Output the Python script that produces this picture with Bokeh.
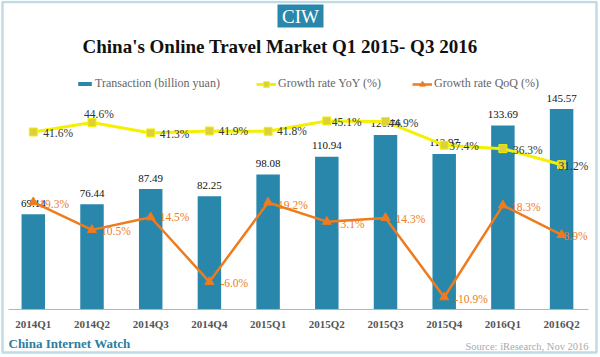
from bokeh.plotting import figure
from bokeh.models import (Range1d, Label, Legend, LegendItem,
                          BoxAnnotation, ColumnDataSource)
from bokeh.core.properties import value
from bokeh.embed import file_html
from bokeh.resources import INLINE

quarters = ["2014Q1", "2014Q2", "2014Q3", "2014Q4", "2015Q1",
            "2015Q2", "2015Q3", "2015Q4", "2016Q1", "2016Q2"]
transaction = [69.14, 76.44, 87.49, 82.25, 98.08, 110.94, 126.76, 112.97, 133.69, 145.57]
yoy = [41.6, 44.6, 41.3, 41.9, 41.8, 45.1, 44.9, 37.4, 36.3, 31.2]
qoq = [19.3, 10.5, 14.5, -6.0, 19.2, 13.1, 14.3, -10.9, 18.3, 8.9]

# label placement (pixel nudges, as in the reference's collision-avoided labels)
yoy_label_dx = [10, -8, 9, 9, 9, 5, 3, 5, 10, -3]
yoy_label_dy = [1, -9, 1, 0, 0, 1, 1, 1, 1, 1]
qoq_label_dx = [6, 9, 9, 11, 10, 8, 10, 10, 8, 2]
qoq_label_dy = [2, 1, 0, 1, 3, 2, 1, 2, 2, 1]

TEAL = "#2987ab"
YELLOW = "#f4f000"
YMARK = "#dcd13a"
ORANGE = "#ee7b1e"
SERIF = "Liberation Serif"
W, H = 600, 357

def fy(sy):
    # canvas pixel row (from top) -> frame screen units (from bottom)
    return H - sy

idx = list(range(len(quarters)))
src = ColumnDataSource(dict(
    x=idx, q=quarters, t=transaction, yoy=yoy, qoq=qoq,
    t_lbl=[f"{v:.2f}" for v in transaction],
    yoy_lbl=[f"{v:.1f}%" for v in yoy],
    qoq_lbl=[f"{v:.1f}%" for v in qoq],
    yoy_dx=yoy_label_dx, yoy_dy=yoy_label_dy,
    qoq_dx=qoq_label_dx, qoq_dy=qoq_label_dy,
    zero=[0] * len(quarters),
))

p = figure(width=W, height=H, title=None,
           x_range=Range1d(-0.5588, 9.6627),
           y_range=Range1d(-34.86, 224.4),
           x_axis_location=None, y_axis_location=None,
           output_backend="svg", toolbar_location=None,
           min_border=0, min_border_left=0, min_border_right=0,
           min_border_top=0, min_border_bottom=0)
p.extra_y_ranges = {"pct": Range1d(-30.05, 83.36)}
p.outline_line_color = None
p.grid.visible = False
p.background_fill_color = "white"
p.border_fill_color = "white"

# x axis baseline
p.add_layout(BoxAnnotation(left=8, right=588, bottom=fy(309.5), top=fy(308.5),
                           left_units="screen", right_units="screen",
                           top_units="screen", bottom_units="screen",
                           fill_color="#b5b5b5", fill_alpha=1, line_color=None))

bars = p.vbar(x="x", top="t", width=0.4, source=src,
              fill_color=TEAL, line_color=None)
p.text(x="x", y="t", text="t_lbl", source=src, text_align="center",
       text_baseline="middle", y_offset=-11, text_font=value(SERIF),
       text_font_size="11px", text_color="#111111")

# category labels along the bottom
p.text(x="x", y="zero", text="q", source=src, text_align="center",
       text_baseline="middle", y_offset=14.5, text_font=value(SERIF),
       text_font_size="11px", text_font_style="bold", text_color="#555555")

l_yoy = p.line(x="x", y="yoy", source=src, y_range_name="pct",
               line_color=YELLOW, line_width=3)
m_yoy = p.scatter(x="x", y="yoy", source=src, y_range_name="pct",
                  marker="square", size=8, fill_color=YMARK, line_color=YELLOW)
l_qoq = p.line(x="x", y="qoq", source=src, y_range_name="pct",
               line_color=ORANGE, line_width=2.5)
m_qoq = p.scatter(x="x", y="qoq", source=src, y_range_name="pct",
                  marker="triangle", size=9, fill_color=ORANGE, line_color=ORANGE)

p.text(x="x", y="yoy", text="yoy_lbl", source=src, y_range_name="pct",
       x_offset="yoy_dx", y_offset="yoy_dy", text_align="left",
       text_baseline="middle", text_font=value(SERIF),
       text_font_size="11.5px", text_color="#333333")
p.text(x="x", y="qoq", text="qoq_lbl", source=src, y_range_name="pct",
       x_offset="qoq_dx", y_offset="qoq_dy", text_align="left",
       text_baseline="middle", text_font=value(SERIF),
       text_font_size="11.5px", text_color=ORANGE)

def make_legend(items, x, gw, gh, top_sy):
    leg = Legend(items=items, location=(x, fy(top_sy + 14)),
                 orientation="horizontal",
                 glyph_width=gw, glyph_height=gh, label_height=14,
                 label_standoff=2, padding=0, margin=0, spacing=0,
                 border_line_color=None, background_fill_alpha=0,
                 label_text_font=SERIF, label_text_font_size="12px",
                 label_text_color="#666666")
    p.add_layout(leg, "center")

make_legend([LegendItem(label="Transaction (billion yuan)", renderers=[bars])], 76, 17, 5, 77)
make_legend([LegendItem(label="Growth rate YoY (%)", renderers=[l_yoy, m_yoy])], 256, 20, 14, 77)
make_legend([LegendItem(label="Growth rate QoQ (%)", renderers=[l_qoq, m_qoq])], 412, 20, 14, 77)

# outer frame
p.add_layout(BoxAnnotation(left=2, right=596, top=fy(1.5), bottom=fy(352),
                           left_units="screen", right_units="screen",
                           top_units="screen", bottom_units="screen",
                           fill_alpha=0, line_color=TEAL, line_width=2.5))

# CIW badge
p.add_layout(BoxAnnotation(left=277, right=323, top=fy(4), bottom=fy(27),
                           left_units="screen", right_units="screen",
                           top_units="screen", bottom_units="screen",
                           fill_color=TEAL, fill_alpha=1, line_color=None))
p.add_layout(Label(x=300, y=fy(15.5), x_units="screen", y_units="screen",
                   text="CIW", text_align="center", text_baseline="middle",
                   text_color="white", text_font=SERIF, text_font_size="19px"))
p.add_layout(Label(x=279.5, y=fy(46), x_units="screen", y_units="screen",
                   text="China's Online Travel Market Q1 2015- Q3 2016",
                   text_align="center", text_baseline="middle",
                   text_color="#111111", text_font=SERIF, text_font_size="19px",
                   text_font_style="bold"))
p.add_layout(Label(x=8, y=fy(343), x_units="screen", y_units="screen",
                   text="China Internet Watch", text_align="left",
                   text_baseline="middle", text_color="#2a7ea3",
                   text_font=SERIF, text_font_size="13px", text_font_style="bold"))
p.add_layout(Label(x=588, y=fy(346), x_units="screen", y_units="screen",
                   text="Source: iResearch, Nov 2016", text_align="right",
                   text_baseline="middle", text_color="#aaaaaa",
                   text_font=SERIF, text_font_size="10.5px"))

open("out.html", "w").write(file_html(p, INLINE))
